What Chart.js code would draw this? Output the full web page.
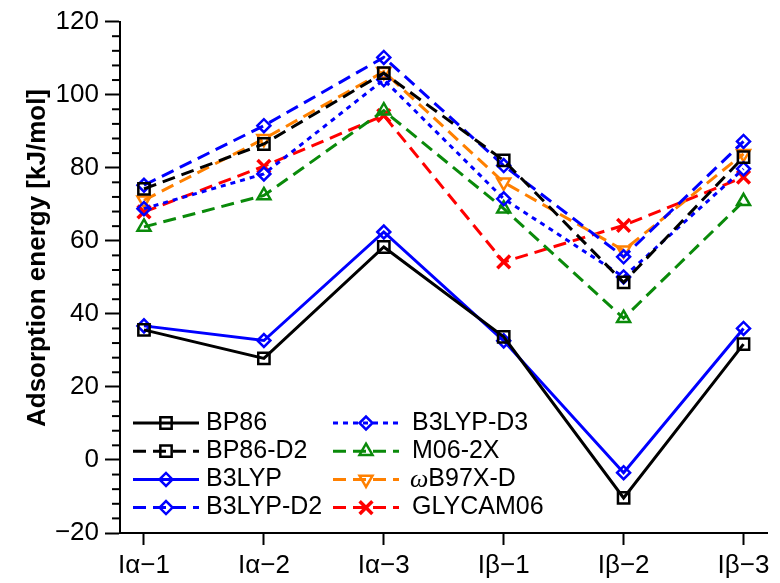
<!DOCTYPE html>
<html>
<head>
<meta charset="utf-8">
<title>Adsorption energy</title>
<script src="https://cdn.jsdelivr.net/npm/chart.js@4.4.1/dist/chart.umd.min.js"></script>
<style>
  html, body { margin: 0; padding: 0; background: #fff; }
  canvas { display: block; }
</style>
</head>
<body>
<canvas id="energyChart" width="780" height="583"></canvas>
<script>
// binding sites on the cellulose surface
const sites = ['Iα−1', 'Iα−2', 'Iα−3', 'Iβ−1', 'Iβ−2', 'Iβ−3'];

// adsorption energies in kJ/mol, one value per site
const bp86     = [35.6, 27.8, 58.3, 33.7, -10.4, 31.7];
const bp86D2   = [74.2, 86.5, 105.9, 82.0, 48.6, 82.9];
const b3lyp    = [36.7, 32.7, 62.4, 32.6, -3.5, 36.0];
const b3lypD2  = [75.2, 91.5, 110.2, 80.6, 55.6, 87.2];
const b3lypD3  = [68.8, 78.3, 104.1, 71.5, 50.1, 79.7];
const m062x    = [63.8, 72.4, 95.6, 68.8, 38.8, 70.8];
const wb97xd   = [71.1, 87.9, 106.3, 76.0, 57.4, 83.8];
const glycam06 = [67.9, 80.4, 94.3, 54.2, 64.2, 77.4];

const yMin = -20, yMax = 120, yStep = 20, yMinorStep = 4;

const FONT = '"Liberation Sans", Arial, Helvetica, sans-serif';
const DASH = [13, 7];
const DOTS = [5, 5];

function series(label, values, color, dash, pointStyle, radius, rotation) {
    return {
        label: label,
        data: values.map((v, i) => ({ x: i, y: v })),
        borderColor: color,
        borderWidth: 3,
        borderDash: dash,
        tension: 0,
        fill: false,
        pointStyle: pointStyle,
        pointRadius: radius,
        pointRotation: rotation || 0,
        pointBorderColor: color,
        pointBackgroundColor: 'rgba(0,0,0,0)',
        pointBorderWidth: pointStyle === 'crossRot' ? 3.5 : 2.5
    };
}

const datasets = [
    series('BP86', bp86, '#000000', [], 'rect', 8),
    series('BP86-D2', bp86D2, '#000000', DASH, 'rect', 8),
    series('B3LYP', b3lyp, '#0000ff', [], 'rectRot', 6.5),
    series('B3LYP-D2', b3lypD2, '#0000ff', DASH, 'rectRot', 6.5),
    series('B3LYP-D3', b3lypD3, '#0000ff', DOTS, 'rectRot', 6.5),
    series('M06-2X', m062x, '#0a8a0a', DASH, 'triangle', 7.5),
    series('ωB97X-D', wb97xd, '#ff8000', DASH, 'triangle', 7.5, 180),
    series('GLYCAM06', glycam06, '#ff0000', DASH, 'crossRot', 9)
];

// minor ticks, rotated axis title and the two-column legend inside the plot
const decorations = {
    id: 'decorations',
    beforeDraw(chart) {
        const ctx = chart.ctx;
        ctx.save();
        ctx.fillStyle = '#fff';
        ctx.fillRect(0, 0, chart.width, chart.height);
        ctx.restore();
    },
    afterDraw(chart) {
        const ctx = chart.ctx;
        const y = chart.scales.y;
        const left = chart.chartArea.left;

        ctx.save();
        ctx.strokeStyle = '#000';
        ctx.lineWidth = 2;
        for (let v = yMin; v <= yMax; v += yMinorStep) {
            if (v % yStep === 0) continue;
            const py = y.getPixelForValue(v);
            ctx.beginPath();
            ctx.moveTo(left - 8, py);
            ctx.lineTo(left, py);
            ctx.stroke();
        }

        ctx.fillStyle = '#000';
        ctx.font = 'bold 26px ' + FONT;
        ctx.textAlign = 'center';
        ctx.textBaseline = 'alphabetic';
        ctx.translate(45, 258);
        ctx.rotate(-Math.PI / 2);
        ctx.fillText('Adsorption energy [kJ/mol]', 0, 0);
        ctx.restore();

        const columns = [
            { lineX: 133, textX: 206 },
            { lineX: 333, textX: 412 }
        ];
        const rowTop = 423, rowGap = 28.2, lineLen = 66;

        chart.data.datasets.forEach((ds, i) => {
            const col = columns[Math.floor(i / 4)];
            const ry = rowTop + (i % 4) * rowGap;

            ctx.save();
            ctx.strokeStyle = ds.borderColor;
            ctx.lineWidth = ds.borderWidth;
            ctx.setLineDash(ds.borderDash);
            ctx.beginPath();
            ctx.moveTo(col.lineX, ry);
            ctx.lineTo(col.lineX + lineLen, ry);
            ctx.stroke();

            ctx.setLineDash([]);
            ctx.lineWidth = ds.pointBorderWidth;
            ctx.fillStyle = 'rgba(0,0,0,0)';
            Chart.helpers.drawPoint(ctx, {
                pointStyle: ds.pointStyle,
                rotation: ds.pointRotation,
                radius: ds.pointRadius,
                borderWidth: ds.pointBorderWidth
            }, col.lineX + lineLen / 2, ry);

            ctx.fillStyle = '#000';
            ctx.textAlign = 'left';
            ctx.textBaseline = 'middle';
            let tx = col.textX;
            let text = ds.label;
            if (text.startsWith('ω')) {
                ctx.font = 'italic 26px "Liberation Serif", serif';
                ctx.fillText('ω', tx - 2, ry + 1);
                tx += ctx.measureText('ω').width - 2;
                text = text.slice(1);
            }
            ctx.font = '25px ' + FONT;
            ctx.fillText(text, tx, ry);
            ctx.restore();
        });
    }
};

new Chart(document.getElementById('energyChart'), {
    type: 'line',
    data: { datasets: datasets },
    options: {
        responsive: false,
        animation: false,
        layout: { padding: { top: 20, right: 11, left: 0, bottom: 0 } },
        plugins: {
            legend: { display: false },
            tooltip: { enabled: false }
        },
        scales: {
            x: {
                type: 'linear',
                min: -0.2,
                max: 5.2,
                afterBuildTicks: scale => {
                    scale.ticks = sites.map((_, i) => ({ value: i }));
                },
                afterFit: scale => { scale.height = 50; },
                ticks: {
                    callback: v => sites[v],
                    color: '#000',
                    font: { family: FONT, size: 26 },
                    padding: 5,
                    maxRotation: 0
                },
                grid: {
                    drawOnChartArea: false,
                    tickLength: 12,
                    tickWidth: 2,
                    tickColor: '#000'
                },
                border: { color: '#000', width: 2 }
            },
            y: {
                min: yMin,
                max: yMax,
                afterFit: scale => { scale.width = 120; },
                ticks: {
                    stepSize: yStep,
                    callback: v => v < 0 ? '−' + Math.abs(v) : String(v),
                    color: '#000',
                    font: { family: FONT, size: 26 },
                    padding: 6
                },
                grid: {
                    drawOnChartArea: false,
                    tickLength: 15,
                    tickWidth: 2,
                    tickColor: '#000'
                },
                border: { color: '#000', width: 2 }
            }
        }
    },
    plugins: [decorations]
});
</script>
</body>
</html>
